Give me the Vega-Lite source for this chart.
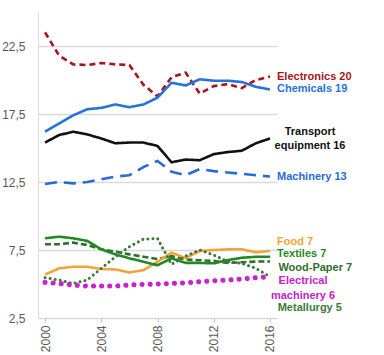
{
  "$schema": "https://vega.github.io/schema/vega-lite/v6.json",
  "width": 239,
  "height": 306,
  "autosize": "none",
  "padding": {"left": 38, "top": 12, "right": 107, "bottom": 37},
  "background": "white",
  "config": {"view": {"stroke": null}},
  "datasets": {
    "series": [
      {"series": "Electronics", "year": 2000, "value": 23.5}, {"series": "Electronics", "year": 2001, "value": 21.8}, {"series": "Electronics", "year": 2002, "value": 21.15}, {"series": "Electronics", "year": 2003, "value": 21.1}, {"series": "Electronics", "year": 2004, "value": 21.25}, {"series": "Electronics", "year": 2005, "value": 21.15}, {"series": "Electronics", "year": 2006, "value": 21.1}, {"series": "Electronics", "year": 2007, "value": 19.65}, {"series": "Electronics", "year": 2008, "value": 18.8}, {"series": "Electronics", "year": 2009, "value": 20.2}, {"series": "Electronics", "year": 2010, "value": 20.55}, {"series": "Electronics", "year": 2011, "value": 19.0}, {"series": "Electronics", "year": 2012, "value": 19.55}, {"series": "Electronics", "year": 2013, "value": 19.7}, {"series": "Electronics", "year": 2014, "value": 19.4}, {"series": "Electronics", "year": 2015, "value": 20.0}, {"series": "Electronics", "year": 2016, "value": 20.25},
      {"series": "Chemicals", "year": 2000, "value": 16.2}, {"series": "Chemicals", "year": 2001, "value": 16.8}, {"series": "Chemicals", "year": 2002, "value": 17.4}, {"series": "Chemicals", "year": 2003, "value": 17.85}, {"series": "Chemicals", "year": 2004, "value": 17.95}, {"series": "Chemicals", "year": 2005, "value": 18.2}, {"series": "Chemicals", "year": 2006, "value": 18.0}, {"series": "Chemicals", "year": 2007, "value": 18.2}, {"series": "Chemicals", "year": 2008, "value": 18.7}, {"series": "Chemicals", "year": 2009, "value": 19.8}, {"series": "Chemicals", "year": 2010, "value": 19.6}, {"series": "Chemicals", "year": 2011, "value": 20.05}, {"series": "Chemicals", "year": 2012, "value": 19.95}, {"series": "Chemicals", "year": 2013, "value": 19.95}, {"series": "Chemicals", "year": 2014, "value": 19.85}, {"series": "Chemicals", "year": 2015, "value": 19.5}, {"series": "Chemicals", "year": 2016, "value": 19.3},
      {"series": "Transport", "year": 2000, "value": 15.4}, {"series": "Transport", "year": 2001, "value": 15.95}, {"series": "Transport", "year": 2002, "value": 16.2}, {"series": "Transport", "year": 2003, "value": 16.0}, {"series": "Transport", "year": 2004, "value": 15.7}, {"series": "Transport", "year": 2005, "value": 15.35}, {"series": "Transport", "year": 2006, "value": 15.4}, {"series": "Transport", "year": 2007, "value": 15.4}, {"series": "Transport", "year": 2008, "value": 15.15}, {"series": "Transport", "year": 2009, "value": 13.95}, {"series": "Transport", "year": 2010, "value": 14.15}, {"series": "Transport", "year": 2011, "value": 14.1}, {"series": "Transport", "year": 2012, "value": 14.55}, {"series": "Transport", "year": 2013, "value": 14.7}, {"series": "Transport", "year": 2014, "value": 14.8}, {"series": "Transport", "year": 2015, "value": 15.35}, {"series": "Transport", "year": 2016, "value": 15.7},
      {"series": "Machinery", "year": 2000, "value": 12.35}, {"series": "Machinery", "year": 2001, "value": 12.5}, {"series": "Machinery", "year": 2002, "value": 12.4}, {"series": "Machinery", "year": 2003, "value": 12.5}, {"series": "Machinery", "year": 2004, "value": 12.7}, {"series": "Machinery", "year": 2005, "value": 12.9}, {"series": "Machinery", "year": 2006, "value": 13.0}, {"series": "Machinery", "year": 2007, "value": 13.6}, {"series": "Machinery", "year": 2008, "value": 14.05}, {"series": "Machinery", "year": 2009, "value": 13.25}, {"series": "Machinery", "year": 2010, "value": 13.0}, {"series": "Machinery", "year": 2011, "value": 13.45}, {"series": "Machinery", "year": 2012, "value": 13.3}, {"series": "Machinery", "year": 2013, "value": 13.2}, {"series": "Machinery", "year": 2014, "value": 13.1}, {"series": "Machinery", "year": 2015, "value": 13.0}, {"series": "Machinery", "year": 2016, "value": 12.9},
      {"series": "Wood-Paper", "year": 2000, "value": 7.92}, {"series": "Wood-Paper", "year": 2001, "value": 7.92}, {"series": "Wood-Paper", "year": 2002, "value": 8.04}, {"series": "Wood-Paper", "year": 2003, "value": 7.87}, {"series": "Wood-Paper", "year": 2004, "value": 7.55}, {"series": "Wood-Paper", "year": 2005, "value": 7.38}, {"series": "Wood-Paper", "year": 2006, "value": 7.18}, {"series": "Wood-Paper", "year": 2007, "value": 7.0}, {"series": "Wood-Paper", "year": 2008, "value": 6.84}, {"series": "Wood-Paper", "year": 2009, "value": 7.05}, {"series": "Wood-Paper", "year": 2010, "value": 6.8}, {"series": "Wood-Paper", "year": 2011, "value": 6.75}, {"series": "Wood-Paper", "year": 2012, "value": 6.7}, {"series": "Wood-Paper", "year": 2013, "value": 6.55}, {"series": "Wood-Paper", "year": 2014, "value": 6.6}, {"series": "Wood-Paper", "year": 2015, "value": 6.65}, {"series": "Wood-Paper", "year": 2016, "value": 6.65},
      {"series": "Metallurgy", "year": 2000, "value": 5.46}, {"series": "Metallurgy", "year": 2001, "value": 5.29}, {"series": "Metallurgy", "year": 2002, "value": 5.04}, {"series": "Metallurgy", "year": 2003, "value": 5.29}, {"series": "Metallurgy", "year": 2004, "value": 6.15}, {"series": "Metallurgy", "year": 2005, "value": 7.0}, {"series": "Metallurgy", "year": 2006, "value": 7.74}, {"series": "Metallurgy", "year": 2007, "value": 8.3}, {"series": "Metallurgy", "year": 2008, "value": 8.35}, {"series": "Metallurgy", "year": 2009, "value": 6.45}, {"series": "Metallurgy", "year": 2010, "value": 7.05}, {"series": "Metallurgy", "year": 2011, "value": 7.5}, {"series": "Metallurgy", "year": 2012, "value": 7.13}, {"series": "Metallurgy", "year": 2013, "value": 6.64}, {"series": "Metallurgy", "year": 2014, "value": 6.52}, {"series": "Metallurgy", "year": 2015, "value": 6.15}, {"series": "Metallurgy", "year": 2016, "value": 5.54},
      {"series": "Food", "year": 2000, "value": 5.7}, {"series": "Food", "year": 2001, "value": 6.15}, {"series": "Food", "year": 2002, "value": 6.27}, {"series": "Food", "year": 2003, "value": 6.27}, {"series": "Food", "year": 2004, "value": 6.1}, {"series": "Food", "year": 2005, "value": 6.07}, {"series": "Food", "year": 2006, "value": 5.85}, {"series": "Food", "year": 2007, "value": 6.02}, {"series": "Food", "year": 2008, "value": 6.64}, {"series": "Food", "year": 2009, "value": 7.3}, {"series": "Food", "year": 2010, "value": 6.9}, {"series": "Food", "year": 2011, "value": 7.43}, {"series": "Food", "year": 2012, "value": 7.5}, {"series": "Food", "year": 2013, "value": 7.55}, {"series": "Food", "year": 2014, "value": 7.55}, {"series": "Food", "year": 2015, "value": 7.33}, {"series": "Food", "year": 2016, "value": 7.43},
      {"series": "Textiles", "year": 2000, "value": 8.36}, {"series": "Textiles", "year": 2001, "value": 8.48}, {"series": "Textiles", "year": 2002, "value": 8.36}, {"series": "Textiles", "year": 2003, "value": 8.17}, {"series": "Textiles", "year": 2004, "value": 7.55}, {"series": "Textiles", "year": 2005, "value": 7.18}, {"series": "Textiles", "year": 2006, "value": 6.89}, {"series": "Textiles", "year": 2007, "value": 6.64}, {"series": "Textiles", "year": 2008, "value": 6.38}, {"series": "Textiles", "year": 2009, "value": 6.89}, {"series": "Textiles", "year": 2010, "value": 6.55}, {"series": "Textiles", "year": 2011, "value": 6.55}, {"series": "Textiles", "year": 2012, "value": 6.52}, {"series": "Textiles", "year": 2013, "value": 6.76}, {"series": "Textiles", "year": 2014, "value": 6.93}, {"series": "Textiles", "year": 2015, "value": 7.0}, {"series": "Textiles", "year": 2016, "value": 7.0},
      {"series": "Electrical", "year": 2000, "value": 5.12}, {"series": "Electrical", "year": 2001, "value": 5.04}, {"series": "Electrical", "year": 2002, "value": 4.92}, {"series": "Electrical", "year": 2003, "value": 4.85}, {"series": "Electrical", "year": 2004, "value": 4.85}, {"series": "Electrical", "year": 2005, "value": 4.85}, {"series": "Electrical", "year": 2006, "value": 4.92}, {"series": "Electrical", "year": 2007, "value": 4.97}, {"series": "Electrical", "year": 2008, "value": 5.0}, {"series": "Electrical", "year": 2009, "value": 5.04}, {"series": "Electrical", "year": 2010, "value": 5.09}, {"series": "Electrical", "year": 2011, "value": 5.17}, {"series": "Electrical", "year": 2012, "value": 5.24}, {"series": "Electrical", "year": 2013, "value": 5.29}, {"series": "Electrical", "year": 2014, "value": 5.36}, {"series": "Electrical", "year": 2015, "value": 5.46}, {"series": "Electrical", "year": 2016, "value": 5.54}
    ],
    "labels": [
      {"series": "Electronics", "text": "Electronics 20", "x": 2016.5, "y": 20.2, "align": "left"},
      {"series": "Chemicals", "text": "Chemicals 19", "x": 2016.5, "y": 19.32, "align": "left"},
      {"series": "Transport", "text": "Transport", "x": 2018.85, "y": 16.2, "align": "center"},
      {"series": "Transport", "text": "equipment 16", "x": 2018.85, "y": 15.17, "align": "center"},
      {"series": "Machinery", "text": "Machinery 13", "x": 2016.5, "y": 12.89, "align": "left"},
      {"series": "Food", "text": "Food 7", "x": 2016.5, "y": 8.11, "align": "left"},
      {"series": "Textiles", "text": "Textiles 7", "x": 2016.5, "y": 7.18, "align": "left"},
      {"series": "Wood-Paper", "text": "Wood-Paper 7", "x": 2016.6, "y": 6.2, "align": "left"},
      {"series": "Electrical", "text": "Electrical", "x": 2018.35, "y": 5.22, "align": "center"},
      {"series": "Electrical", "text": "machinery 6", "x": 2018.35, "y": 4.12, "align": "center"},
      {"series": "Metallurgy", "text": "Metallurgy 5", "x": 2016.55, "y": 3.26, "align": "left"}
    ]
  },
  "encoding": {
    "color": {
      "field": "series", "type": "nominal", "legend": null,
      "scale": {
        "domain": ["Electronics", "Chemicals", "Transport", "Machinery", "Food", "Textiles", "Wood-Paper", "Electrical", "Metallurgy"],
        "range": ["#A8141E", "#2672D8", "#111111", "#2A6AD8", "#F2A33A", "#1F8A1F", "#2F6E2F", "#C822C8", "#3B7A3B"]
      }
    }
  },
  "layer": [
    {
      "data": {"name": "series"},
      "transform": [{"filter": "datum.series !== 'Electrical' && datum.series !== 'Metallurgy'"}],
      "mark": {"type": "line", "strokeWidth": 2.6, "strokeCap": "butt", "strokeJoin": "round"},
      "encoding": {
        "x": {
          "field": "year", "type": "quantitative",
          "scale": {"domain": [1999.5, 2016.5], "nice": false, "zero": false},
          "axis": {
            "title": null, "grid": false,
            "values": [2000, 2001, 2002, 2003, 2004, 2005, 2006, 2007, 2008, 2009, 2010, 2011, 2012, 2013, 2014, 2015, 2016],
            "labelExpr": "datum.value % 2 === 0 ? '' + datum.value : ''",
            "labelAngle": -90, "labelAlign": "right", "labelBaseline": "middle",
            "labelFont": "Liberation Sans", "labelFontSize": 12, "labelColor": "#595959",
            "labelPadding": 3, "labelOverlap": false,
            "domainColor": "#d9d9d9", "tickColor": "#bfbfbf", "tickSize": 4
          }
        },
        "y": {
          "field": "value", "type": "quantitative",
          "scale": {"domain": [2.5, 25], "nice": false, "zero": false},
          "axis": {
            "title": null,
            "values": [2.5, 7.5, 12.5, 17.5, 22.5],
            "labelExpr": "replace(format(datum.value, '.1f'), '.', ',')",
            "labelFont": "Liberation Sans", "labelFontSize": 12, "labelColor": "#595959",
            "ticks": false, "labelPadding": 13,
            "domainColor": "#d9d9d9", "gridColor": "#d9d9d9", "gridWidth": 1.5
          }
        },
        "strokeDash": {
          "field": "series", "type": "nominal", "legend": null,
          "scale": {
            "domain": ["Electronics", "Chemicals", "Transport", "Machinery", "Food", "Textiles", "Wood-Paper"],
            "range": [[6, 4], [1, 0], [1, 0], [12, 7], [1, 0], [1, 0], [6, 3]]
          }
        }
      }
    },
    {
      "data": {"name": "series"},
      "transform": [{"filter": "datum.series === 'Metallurgy'"}],
      "mark": {"type": "line", "strokeWidth": 3, "strokeCap": "round", "strokeDash": [0.1, 5]},
      "encoding": {
        "x": {"field": "year", "type": "quantitative"},
        "y": {"field": "value", "type": "quantitative"}
      }
    },
    {
      "data": {"name": "series"},
      "transform": [{"filter": "datum.series === 'Electrical'"}],
      "mark": {"type": "line", "strokeWidth": 5, "strokeCap": "round", "strokeDash": [0.1, 8]},
      "encoding": {
        "x": {"field": "year", "type": "quantitative"},
        "y": {"field": "value", "type": "quantitative"}
      }
    },
    {
      "data": {"name": "labels"},
      "transform": [{"filter": "datum.align === 'left'"}],
      "mark": {"type": "text", "font": "Liberation Sans", "fontWeight": "bold", "fontSize": 11, "baseline": "middle", "align": "left"},
      "encoding": {
        "x": {"field": "x", "type": "quantitative"},
        "y": {"field": "y", "type": "quantitative"},
        "text": {"field": "text"}
      }
    },
    {
      "data": {"name": "labels"},
      "transform": [{"filter": "datum.align === 'center'"}],
      "mark": {"type": "text", "font": "Liberation Sans", "fontWeight": "bold", "fontSize": 11, "baseline": "middle", "align": "center"},
      "encoding": {
        "x": {"field": "x", "type": "quantitative"},
        "y": {"field": "y", "type": "quantitative"},
        "text": {"field": "text"}
      }
    }
  ]
}
